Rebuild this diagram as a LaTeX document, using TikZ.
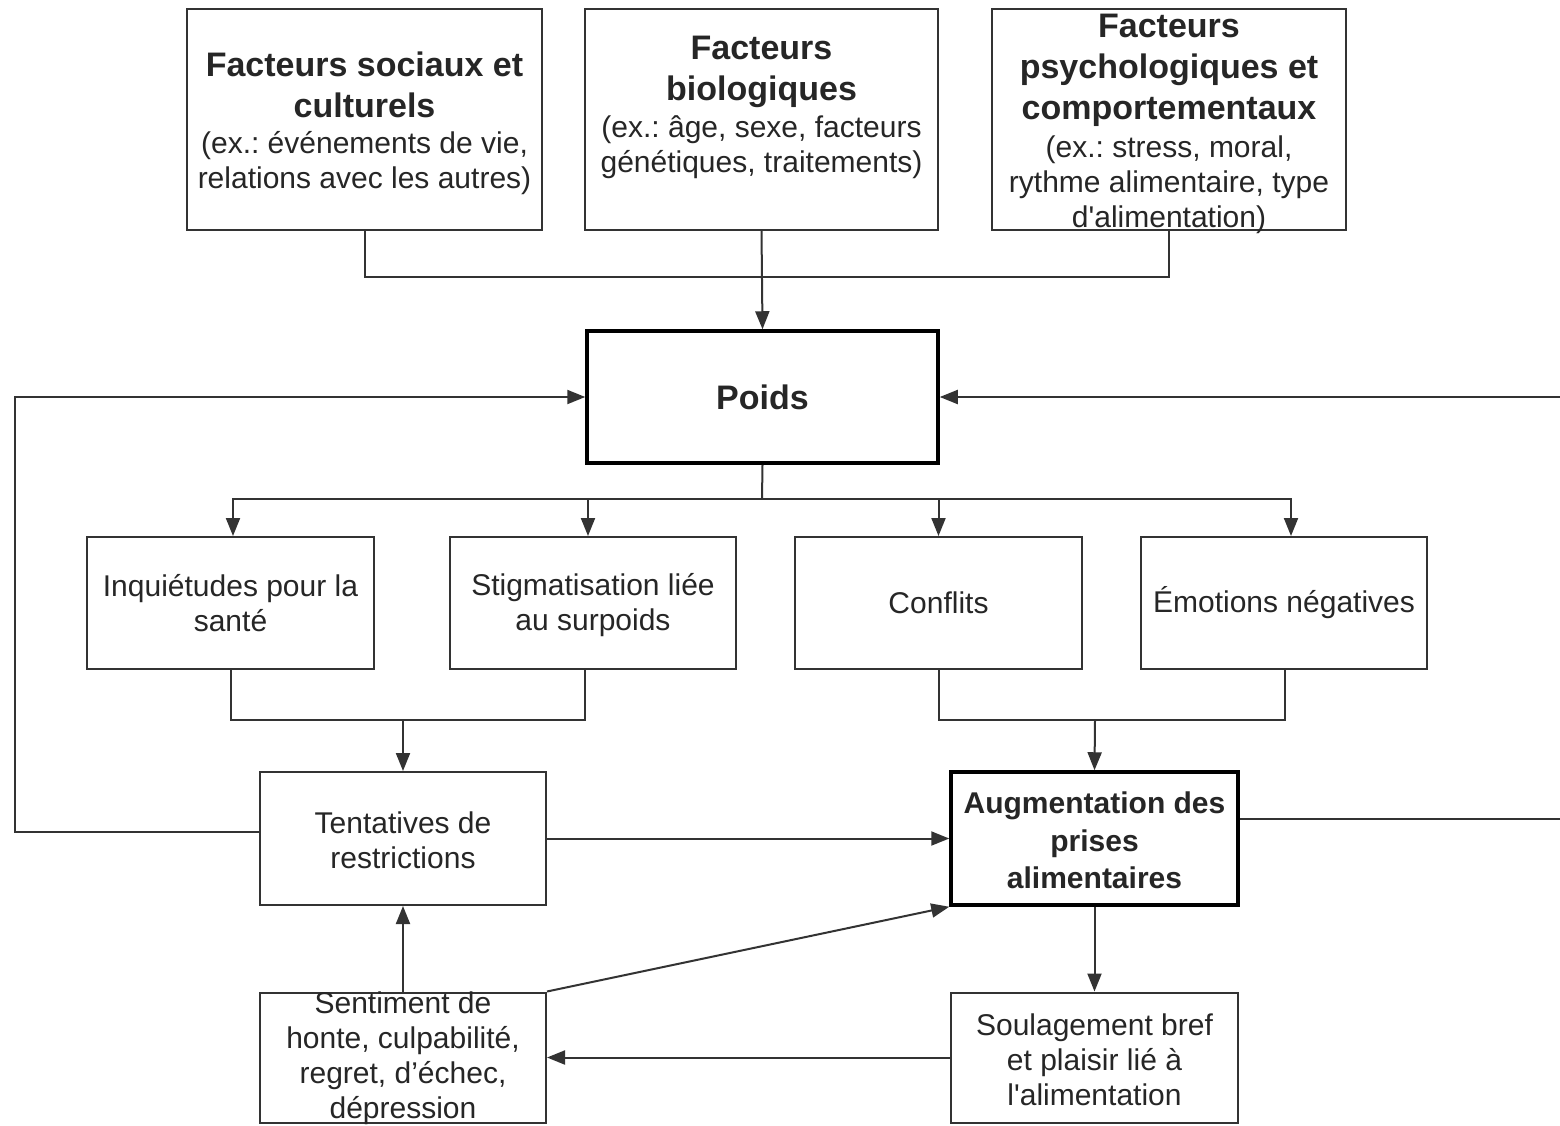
\documentclass[tikz,border=0pt]{standalone}
\usepackage{fontspec}
\setmainfont{Liberation Sans}
\usetikzlibrary{arrows.meta,calc}
\definecolor{ink}{HTML}{333333}
\frenchspacing
% centred text block of zero height, so a box keeps its size even if the text overflows
\newcommand{\boxtxt}[2]{\vbox to 0pt{\vss\hsize=#1\centering #2\par\vss}}
\newcommand{\headfont}{\bfseries\fontsize{34}{41}\selectfont}
\newcommand{\keyfont}{\bfseries\fontsize{30}{37.5}\selectfont}
\newcommand{\bodyfont}{\fontsize{30}{35}\selectfont}
\tikzset{
  box/.style={rectangle, draw=ink, line width=2pt, fill=white, inner sep=0pt,
              minimum height=132pt, text=black!85},
  keybox/.style={box, draw=black, line width=3.5pt},
  conn/.style={draw=ink, line width=2pt},
  arr/.style={conn, -{Triangle[length=18pt,width=14pt]}},
}
\begin{document}
\begin{tikzpicture}[x=1pt,y=-1pt]
\useasboundingbox[fill=white] (0,0) rectangle (1560,1125);

% factor boxes
\node[box, minimum width=355pt, minimum height=221pt] (soc) at (364.5,119.5)
  {\boxtxt{350pt}{\vskip8pt{\headfont Facteurs sociaux et\\culturels\par}\vskip1pt{\bodyfont (ex.: événements de vie,\\relations avec les autres)\par}}};
\node[box, minimum width=353pt, minimum height=221pt] (bio) at (761.5,119.5)
  {\boxtxt{350pt}{{\headfont Facteurs\\biologiques\par}\vskip2pt{\bodyfont (ex.: âge, sexe, facteurs\\génétiques, traitements)\par}\vskip24pt}};
\node[box, minimum width=354pt, minimum height=221pt] (psy) at (1169,119.5)
  {\boxtxt{350pt}{\vskip9pt{\headfont Facteurs\\psychologiques et\\comportementaux\par}\vskip3pt{\bodyfont (ex.: stress, moral,\\rythme alimentaire, type\\d\textquotesingle alimentation)\par}}};

% weight
\node[keybox, minimum width=351pt] (poids) at (762.5,397)
  {\boxtxt{340pt}{{\headfont Poids\par}}};

% consequences
\node[box, minimum width=287pt] (inq) at (230.5,603)
  {\boxtxt{280pt}{{\bodyfont Inquiétudes pour la\\santé\par}}};
\node[box, minimum width=286pt] (stig) at (593,603)
  {\boxtxt{280pt}{\vskip5pt{\bodyfont Stigmatisation liée\\au surpoids\par}}};
\node[box, minimum width=287pt] (conf) at (938.5,603)
  {\boxtxt{280pt}{{\bodyfont Conflits\par}}};
\node[box, minimum width=286pt] (emo) at (1284,603)
  {\boxtxt{280pt}{{\bodyfont Émotions négatives\par}}};

% behaviours
\node[box, minimum width=286pt, minimum height=133pt] (tent) at (403,838.5)
  {\boxtxt{280pt}{\vskip3pt{\bodyfont Tentatives de\\restrictions\par}}};
\node[keybox, minimum width=287pt, minimum height=133pt] (aug) at (1094.5,838.5)
  {\boxtxt{280pt}{\vskip4pt{\keyfont Augmentation des\\prises\\alimentaires\par}}};
\node[box, minimum width=286pt, minimum height=130pt] (sent) at (403,1057.5)
  {\boxtxt{280pt}{\vskip2pt{\bodyfont Sentiment de\\honte, culpabilité,\\regret, d’échec,\\dépression\par}}};
\node[box, minimum width=287pt, minimum height=130pt] (soul) at (1094.5,1057.5)
  {\boxtxt{280pt}{\vskip4pt{\bodyfont Soulagement bref\\et plaisir lié à\\l\textquotesingle alimentation\par}}};

% junction points
\coordinate (jtop) at (762,277);
\coordinate (jmid) at (762,499);
\coordinate (jl) at (403,720);
\coordinate (jr) at (1095,720);
\coordinate (loopl) at (15,832);
\coordinate (loopu) at (15,397);
\coordinate (edgelow) at (1560,818.5);
\coordinate (edgeup) at (1560,397);

% factors -> weight
\draw[conn] (soc.south) |- (jtop) -| (psy.south);
\draw[arr] (bio.south) -- (poids.north);

% weight -> consequences
\draw[conn] (poids.south) -- (jmid);
\draw[arr] (jmid) -| ($(inq.north)+(2.5,0)$);
\draw[arr] (jmid) -| ($(stig.north)+(-5,0)$);
\draw[arr] (jmid) -| (conf.north);
\draw[arr] (jmid) -| ($(emo.north)+(7,0)$);

% consequences -> behaviours
\draw[conn] (inq.south) |- (jl) -| ($(stig.south)+(-8,0)$);
\draw[arr] (jl) -- (tent.north);
\draw[conn] (conf.south) |- (jr) -| ($(emo.south)+(1,0)$);
\draw[arr] (jr) -- (aug.north);

% feedback loops
\draw[arr] ($(tent.west)+(0,-6.5)$) -- (loopl) -- (loopu) -- (poids.west);
\draw[conn] ($(aug.east)+(0,-20)$) -- (edgelow);
\draw[arr] (edgeup) -- (poids.east);

% eating cycle
\draw[arr] (tent.east) -- (aug.west);
\draw[arr] (aug.south) -- (soul.north);
\draw[arr] (soul.west) -- (sent.east);
\draw[arr] (sent.north) -- (tent.south);
\draw[arr] (sent.north east) -- (aug.south west);
\end{tikzpicture}
\end{document}
